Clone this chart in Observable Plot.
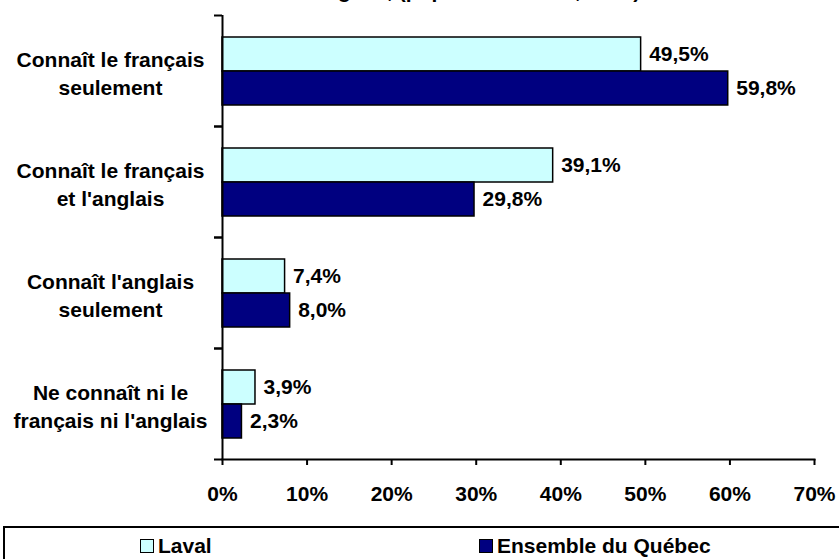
<!DOCTYPE html>
<html>
<head>
<meta charset="utf-8">
<script src="https://cdn.jsdelivr.net/npm/d3@7"></script>
<script src="https://cdn.jsdelivr.net/npm/@observablehq/plot@0.6"></script>
<style>
  html, body { margin: 0; padding: 0; background: #fff; }
  body { width: 839px; height: 559px; overflow: hidden; position: relative; font-family: "Liberation Sans", Arial, sans-serif; font-weight: bold; }
  #legend { position: absolute; left: 3px; top: 526px; width: 840px; height: 40px; border: 2px solid #000; box-sizing: border-box; }
  .item { position: absolute; top: 7px; display: flex; align-items: center; font-size: 21px; line-height: 22px; }
  .sw { width: 12px; height: 12px; border: 1.5px solid #000; margin-right: 4px; }
</style>
</head>
<body>
<div id="chart"></div>
<div id="legend"></div>
<script>
const categories = [
  "Connaît le français\nseulement",
  "Connaît le français\net l'anglais",
  "Connaît l'anglais\nseulement",
  "Ne connaît ni le\nfrançais ni l'anglais"
];
const series = ["Laval", "Ensemble du Québec"];
const laval = [49.5, 39.1, 7.4, 3.9];
const quebec = [59.8, 29.8, 8.0, 2.3];
const xTicks = [0, 10, 20, 30, 40, 50, 60, 70];
const colors = ["#CCFFFF", "#000080"];
const title = "Connaissance des langues, (population totale, 2001)";

const data = categories.flatMap((c, i) => [
  {cat: c, series: series[0], value: laval[i]},
  {cat: c, series: series[1], value: quebec[i]}
]);
const fmt = v => v.toFixed(1).replace(".", ",") + "%";

const chart = Plot.plot({
  width: 839,
  height: 526,
  marginLeft: 222,
  marginRight: 25,
  marginTop: 14,
  marginBottom: 67,
  style: {fontFamily: "'Liberation Sans', Arial, sans-serif", fontWeight: "bold", fontSize: "21px", color: "#000", background: "#fff"},
  fy: {domain: categories, padding: 0, axis: null},
  y: {domain: series, paddingInner: 0, paddingOuter: 0.586, axis: null},
  x: {domain: [0, 70], axis: null},
  color: {domain: series, range: colors},
  marks: [
    Plot.barX(data, {fy: "cat", y: "series", x: "value", fill: "series", stroke: "#000", strokeWidth: 1.5}),
    Plot.text(data, {fy: "cat", y: "series", x: "value", text: d => fmt(d.value), textAnchor: "start", dx: 8, fill: "#000", fontSize: 21}),
    Plot.text(categories, {fy: d => d, text: d => d, frameAnchor: "left", dx: -112, dy: 1, textAnchor: "middle", lineHeight: 1.35, fill: "#000", fontSize: 21}),
    Plot.ruleX([0], {stroke: "#000", strokeWidth: 2}),
    Plot.axisFy({anchor: "left", text: null, label: null, tickSize: 8, dy: -55.5, strokeWidth: 2}),
    Plot.axisFy({anchor: "left", text: null, label: null, tickSize: 8, dy: 55.5, strokeWidth: 2}),
    Plot.frame({anchor: "bottom", facetAnchor: "bottom", stroke: "#000", strokeWidth: 2}),
    Plot.axisX({ticks: xTicks, tickFormat: d => d + "%", label: null, tickSize: 6, tickPadding: 21, strokeWidth: 2, fontSize: 21, fill: "#000"}),
    Plot.text([title], {frameAnchor: "top-left", dx: -105, dy: -18, textAnchor: "start", text: d => d, fontSize: 21, facet: "super", lineAnchor: "bottom"})
  ]
});
document.getElementById("chart").appendChild(chart);

const legend = document.getElementById("legend");
const lx = [135, 474];
series.forEach((s, i) => {
  const it = document.createElement("div");
  it.className = "item";
  it.style.left = lx[i] + "px";
  const sw = document.createElement("div");
  sw.className = "sw";
  sw.style.background = colors[i];
  const t = document.createElement("span");
  t.textContent = s;
  it.appendChild(sw);
  it.appendChild(t);
  legend.appendChild(it);
});
</script>
</body>
</html>
